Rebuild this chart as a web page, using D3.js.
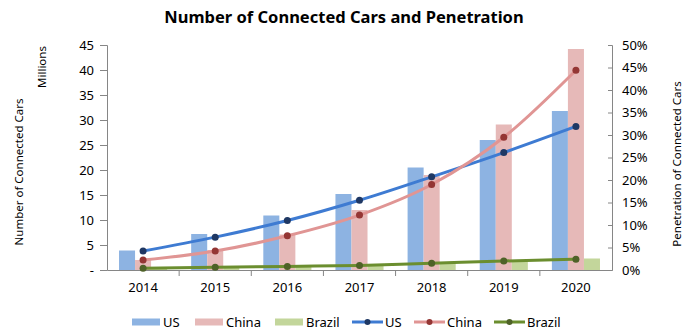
<html lang="en">
<head>
  <meta charset="utf-8">
  <title>Number of Connected Cars and Penetration</title>
  <script src="https://d3js.org/d3.v7.min.js"></script>
  <style>
    body { margin: 0; background: #fff; }
    text { font-family: "Noto Sans", "Liberation Sans", sans-serif; fill: #000; }
  </style>
</head>
<body>
  <svg width="692" height="329"></svg>
  <script>
    const years = ["2014", "2015", "2016", "2017", "2018", "2019", "2020"];
    const series = ["US", "China", "Brazil"];
    // connected cars, millions
    const carsUS = [3.9, 7.2, 10.9, 15.2, 20.5, 26.0, 31.8];
    const carsChina = [2.0, 4.0, 7.1, 12.0, 19.0, 29.1, 44.2];
    const carsBrazil = [0.3, 0.5, 0.8, 1.1, 1.5, 2.0, 2.3];
    // penetration, %
    const penUS = [4.2, 7.3, 11.0, 15.5, 20.7, 26.1, 31.9];
    const penChina = [2.2, 4.2, 7.6, 12.2, 19.0, 29.5, 44.4];
    const penBrazil = [0.4, 0.6, 0.8, 1.0, 1.5, 2.0, 2.4];
    const leftTicks = [0, 5, 10, 15, 20, 25, 30, 35, 40, 45];
    const rightTicks = [0, 5, 10, 15, 20, 25, 30, 35, 40, 45, 50];

    const barColors = { US: "#8db3e2", China: "#e6b9b8", Brazil: "#c3d69b" };
    const lineColors = { US: "#3e7bd2", China: "#e09594", Brazil: "#6b8e2f" };
    const dotColors = { US: "#1f3864", China: "#943634", Brazil: "#4f6228" };

    const cars = { US: carsUS, China: carsChina, Brazil: carsBrazil };
    const pen = { US: penUS, China: penChina, Brazil: penBrazil };

    const svg = d3.select("svg");
    const plotLeft = 107, plotRight = 612, plotTop = 45, plotBottom = 270;

    const x = d3.scaleBand().domain(years).range([plotLeft, plotRight]);
    const xi = d3.scaleBand().domain(series).range([0, x.bandwidth()])
      .paddingInner(0).paddingOuter(0.75);
    const yL = d3.scaleLinear().domain([0, 45]).range([plotBottom, plotTop]);
    const yR = d3.scaleLinear().domain([0, 50]).range([plotBottom, plotTop]);

    // title
    svg.append("text")
      .attr("x", 344).attr("y", 23)
      .attr("text-anchor", "middle")
      .style("font-size", "16.5px").style("font-weight", "bold")
      .text("Number of Connected Cars and Penetration");

    // bars
    series.forEach(s => {
      svg.append("g").selectAll("rect")
        .data(years)
        .enter().append("rect")
        .attr("x", (d, i) => x(d) + xi(s))
        .attr("width", xi.bandwidth())
        .attr("y", (d, i) => yL(cars[s][i]))
        .attr("height", (d, i) => plotBottom - yL(cars[s][i]))
        .attr("fill", barColors[s]);
    });

    // left axis
    const axL = svg.append("g").attr("transform", `translate(${plotLeft},0)`)
      .call(d3.axisLeft(yL).tickValues(leftTicks).tickSize(7).tickPadding(6)
        .tickFormat(d => d === 0 ? "-" : d));
    axL.select(".domain").attr("stroke", "#868686");
    axL.selectAll(".tick line").attr("stroke", "#868686");
    axL.selectAll(".tick text").style("font-size", "13px").attr("fill", "#000");

    // right axis
    const axR = svg.append("g").attr("transform", `translate(${plotRight},0)`)
      .call(d3.axisRight(yR).tickValues(rightTicks).tickSize(-4).tickPadding(10)
        .tickFormat(d => d + "%"));
    axR.select(".domain").attr("stroke", "#868686");
    axR.selectAll(".tick line").attr("stroke", "#868686");
    axR.selectAll(".tick text").style("font-size", "13px").attr("fill", "#000");

    // x axis
    const axX = svg.append("g").attr("transform", `translate(0,${plotBottom})`)
      .call(d3.axisBottom(x).tickSize(0).tickPadding(13));
    axX.select(".domain").attr("stroke", "#868686");
    axX.selectAll(".tick text").style("font-size", "13px").attr("fill", "#000");
    axX.selectAll(".sep")
      .data(years.slice(1))
      .enter().append("line")
      .attr("x1", d => x(d)).attr("x2", d => x(d))
      .attr("y1", 0).attr("y2", 6)
      .attr("stroke", "#868686");

    // lines
    series.forEach(s => {
      const line = d3.line()
        .x((d, i) => x(years[i]) + x.bandwidth() / 2)
        .y(d => yR(d))
        .curve(d3.curveMonotoneX);
      svg.append("path")
        .datum(pen[s])
        .attr("d", line)
        .attr("fill", "none")
        .attr("stroke", lineColors[s])
        .attr("stroke-width", 3);
      svg.append("g").selectAll("circle")
        .data(pen[s])
        .enter().append("circle")
        .attr("cx", (d, i) => x(years[i]) + x.bandwidth() / 2)
        .attr("cy", d => yR(d))
        .attr("r", 3.5)
        .attr("fill", dotColors[s]);
    });

    // axis titles
    svg.append("text")
      .attr("transform", "translate(23,172) rotate(-90)")
      .attr("text-anchor", "middle")
      .style("font-size", "11.5px")
      .text("Number of Connected Cars");
    svg.append("text")
      .attr("transform", "translate(46,67) rotate(-90)")
      .attr("text-anchor", "middle")
      .style("font-size", "11.5px")
      .text("Millions");
    svg.append("text")
      .attr("transform", "translate(681,164) rotate(-90)")
      .attr("text-anchor", "middle")
      .style("font-size", "11.5px")
      .text("Penetration of Connected Cars");

    // legend
    const legendY = 322;
    const barLegend = [
      { s: "US", x: 132 }, { s: "China", x: 195 }, { s: "Brazil", x: 275 }
    ];
    const lineLegend = [
      { s: "US", x: 352 }, { s: "China", x: 414 }, { s: "Brazil", x: 494 }
    ];
    const lg = svg.append("g");
    barLegend.forEach(d => {
      lg.append("rect").attr("x", d.x).attr("y", legendY - 3.5)
        .attr("width", 28).attr("height", 7).attr("fill", barColors[d.s]);
      lg.append("text").attr("x", d.x + 31).attr("y", legendY + 4.5)
        .style("font-size", "13px").text(d.s);
    });
    lineLegend.forEach(d => {
      lg.append("line").attr("x1", d.x).attr("x2", d.x + 31)
        .attr("y1", legendY).attr("y2", legendY)
        .attr("stroke", lineColors[d.s]).attr("stroke-width", 3);
      lg.append("circle").attr("cx", d.x + 15.5).attr("cy", legendY)
        .attr("r", 3).attr("fill", dotColors[d.s]);
      lg.append("text").attr("x", d.x + 33).attr("y", legendY + 4.5)
        .style("font-size", "13px").text(d.s);
    });
  </script>
</body>
</html>
